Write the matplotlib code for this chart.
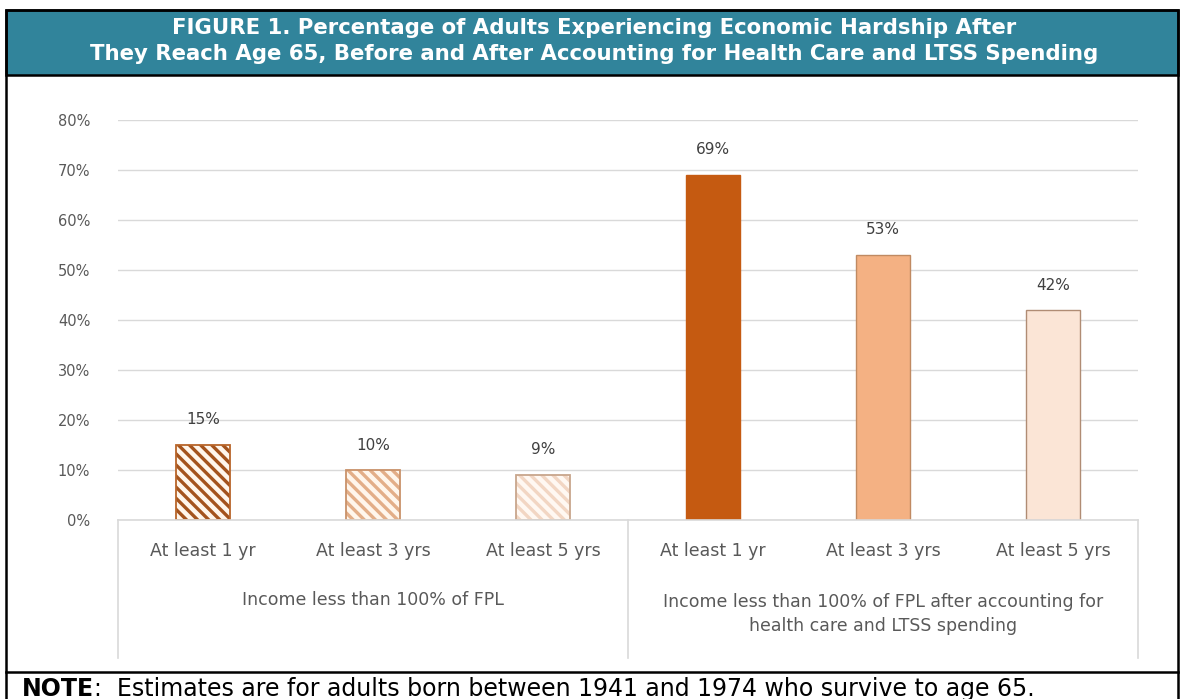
import matplotlib
matplotlib.use("Agg")
import matplotlib.pyplot as plt
from matplotlib.patches import Rectangle
from matplotlib.lines import Line2D

# data
categories = ["At least 1 yr", "At least 3 yrs", "At least 5 yrs",
              "At least 1 yr", "At least 3 yrs", "At least 5 yrs"]
values = [0.15, 0.10, 0.09, 0.69, 0.53, 0.42]
value_labels = ["15%", "10%", "9%", "69%", "53%", "42%"]
group_labels = ["Income less than 100% of FPL",
                "Income less than 100% of FPL after accounting for\nhealth care and LTSS spending"]
y_ticks = [0, 0.1, 0.2, 0.3, 0.4, 0.5, 0.6, 0.7, 0.8]
y_ticklabels = ["0%", "10%", "20%", "30%", "40%", "50%", "60%", "70%", "80%"]

title = ("FIGURE 1. Percentage of Adults Experiencing Economic Hardship After\n"
         "They Reach Age 65, Before and After Accounting for Health Care and LTSS Spending")
note = ":  Estimates are for adults born between 1941 and 1974 who survive to age 65."

# styles
hatched = [True, True, True, False, False, False]
face_colors = ["#FFF6EC", "#FFF6EC", "#FFF8F2", "#C55A11", "#F4B183", "#FBE5D6"]
hatch_colors = ["#A4531D", "#E3AE88", "#F2D6C3", None, None, None]
edge_colors = ["#B8652A", "#C9926A", "#C8A68C", "#C55A11", "#C08A62", "#B08C74"]

W, H = 1182, 699
plt.rcParams['hatch.linewidth'] = 2.4
text_font = ["DejaVu Sans"]
grey = "#595959"


def fx(px):
    return px / W


def fy(py):
    return 1 - py / H


fig = plt.figure(figsize=(W / 100, H / 100), dpi=100)

# axes placed so 0% at y=519.5 and 80% at y=119.5, x from 118 to 1138
ax = fig.add_axes([fx(118), fy(519.5), fx(1138) - fx(118), fy(119.5) - fy(519.5)])
x = list(range(len(values)))
for i in x:
    if hatched[i]:
        ax.bar(i, values[i], width=0.32, color=face_colors[i], edgecolor=hatch_colors[i],
               hatch="\\\\\\", linewidth=0, zorder=3)
        ax.bar(i, values[i], width=0.32, fill=False, edgecolor=edge_colors[i],
               linewidth=1.3, zorder=4)
    else:
        ax.bar(i, values[i], width=0.32, color=face_colors[i], edgecolor=edge_colors[i],
               linewidth=1.0, zorder=3)
    ax.text(i, values[i] + 0.034, value_labels[i], ha="center", va="bottom",
            fontsize=11, color="#404040", family=text_font)

ax.set_xlim(-0.5, len(values) - 0.5)
ax.set_ylim(0, 0.8)
ax.set_yticks(y_ticks)
ax.set_yticklabels(y_ticklabels, fontsize=10.5, color=grey, family=text_font)
ax.tick_params(axis="y", length=0, pad=20)
ax.grid(axis="y", color="#D9D9D9", linewidth=1.0, zorder=0)
for s in ["top", "right", "left"]:
    ax.spines[s].set_visible(False)
ax.spines["bottom"].set_color("#D9D9D9")
ax.spines["bottom"].set_linewidth(1.2)
ax.spines["bottom"].set_zorder(5)

# category labels
ax.set_xticks(x)
ax.set_xticklabels(categories, fontsize=12.5, color=grey, family=text_font)
ax.tick_params(axis="x", length=0, pad=16)

# multi-level axis: separator lines and group labels
trans = ax.get_xaxis_transform()
for xs in [-0.5, 2.5, 5.5]:
    ax.add_line(Line2D([xs, xs], [0, -(658 - 519.5) / 400], transform=trans,
                       color="#D9D9D9", linewidth=1.2, clip_on=False))
ax.text(1, -(600 - 519.5) / 400, group_labels[0], transform=trans, ha="center", va="center",
        fontsize=12.5, color=grey, family=text_font)
ax.text(4, -(614 - 519.5) / 400, group_labels[1], transform=trans, ha="center", va="center",
        fontsize=12.5, color=grey, family=text_font, linespacing=1.45)

# frame, header band and note
fig.add_artist(Rectangle((fx(6), fy(75)), fx(1178) - fx(6), fy(10) - fy(75),
                         transform=fig.transFigure, facecolor="#31849B",
                         edgecolor="black", linewidth=1.8))
fig.add_artist(Rectangle((fx(6), fy(710)), fx(1178) - fx(6), fy(10) - fy(710),
                         transform=fig.transFigure, fill=False,
                         edgecolor="black", linewidth=1.8))
fig.add_artist(Line2D([fx(6), fx(1178)], [fy(672), fy(672)], transform=fig.transFigure,
                      color="black", linewidth=1.8))
fig.text(fx(594), fy(41), title, ha="center", va="center", fontsize=15.3, color="white",
         fontweight="bold", family="DejaVu Sans", linespacing=1.4)

note_head = fig.text(fx(22), fy(689), "NOTE", ha="left", va="center", fontsize=17,
                     fontweight="bold", family="DejaVu Sans")
fig.canvas.draw()
bb = note_head.get_window_extent()
fig.text(bb.x1 / W, fy(689), note, ha="left", va="center", fontsize=17, family="DejaVu Sans")

fig.savefig("out.png", dpi=100)
